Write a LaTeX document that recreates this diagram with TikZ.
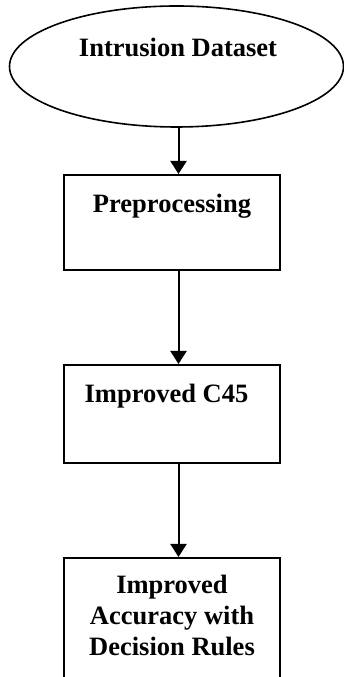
\documentclass[tikz,border=0pt]{standalone}
\usepackage{fontspec}
\setmainfont{Liberation Serif}
\usetikzlibrary{shapes.geometric,arrows.meta}
\tikzset{
  stepbox/.style={draw=black,line width=2pt,rectangle,minimum width=216pt,inner sep=0pt},
  lbl/.style={font=\bfseries\fontsize{26.5}{31}\selectfont,inner sep=0pt,anchor=base,align=center},
  arr/.style={line width=2pt,-{Triangle[width=16pt,length=13pt]}}
}
\begin{document}
\begin{tikzpicture}[x=1pt,y=1pt]
\useasboundingbox (0,0) rectangle (344,677);
\clip (0,0) rectangle (344,677);
\node[draw=black,line width=1.6pt,ellipse,minimum width=334pt,minimum height=121pt,inner sep=0pt] (ds) at (176.5,610.5) {};
\node[stepbox,minimum height=95pt] (b1) at (172,454.5) {};
\node[stepbox,minimum height=98pt] (b2) at (172,263) {};
\node[stepbox,minimum height=139pt] (b3) at (172,49.5) {};
\node[lbl] (t0) at (178,620) {Intrusion Dataset};
\node[lbl] (t1) at (172,464) {Preprocessing};
\node[lbl] (t2) at (166.5,274) {Improved C45};
\node[lbl] (t3) at (172,21) {Improved\\Accuracy with\\Decision Rules};
\coordinate (ax) at (178.5,0);
\draw[arr] (ds.south -| ax) -- (b1.north -| ax);
\draw[arr] (b1.south -| ax) -- (b2.north -| ax);
\draw[arr] (b2.south -| ax) -- (b3.north -| ax);
\end{tikzpicture}
\end{document}
